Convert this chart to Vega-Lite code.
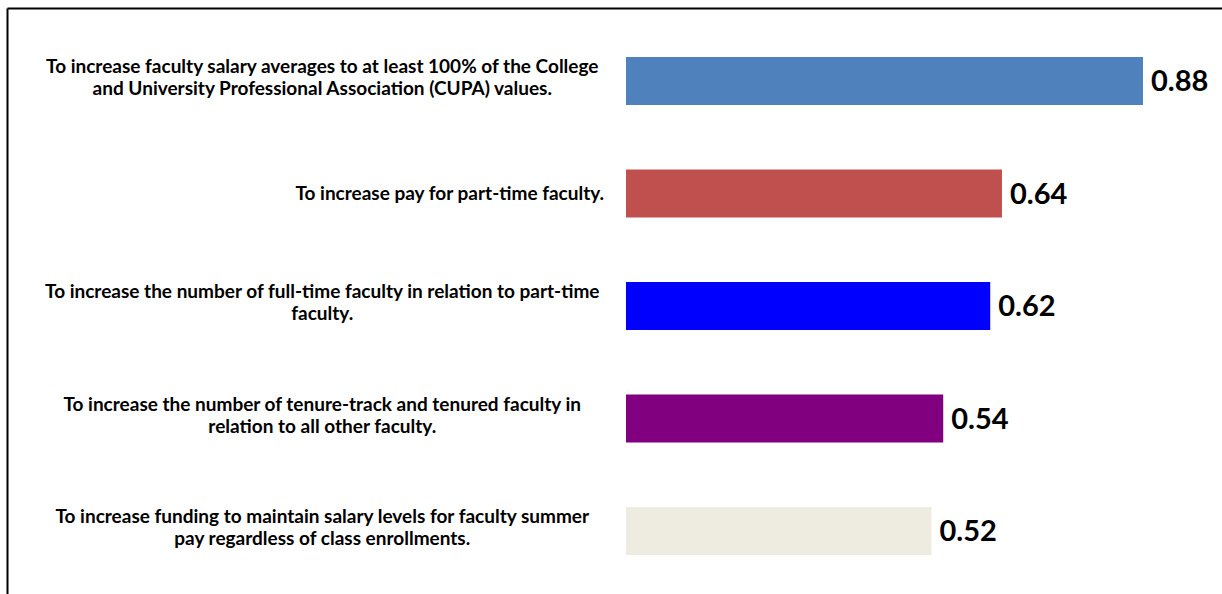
{
  "$schema": "https://vega.github.io/schema/vega-lite/v6.json",
  "width": 1215,
  "height": 586,
  "autosize": {"type": "none"},
  "padding": {"left": 7, "top": 8, "right": 0, "bottom": 0},
  "background": "white",
  "config": {"view": {"stroke": null}},
  "data": {
    "values": [
      {"goal": "To increase faculty salary averages to at least 100% of the College\nand University Professional Association (CUPA) values.", "value": 0.88, "key": "A"},
      {"goal": "To increase pay for part-time faculty.", "value": 0.64, "key": "B"},
      {"goal": "To increase the number of full-time faculty in relation to part-time\nfaculty.", "value": 0.62, "key": "C"},
      {"goal": "To increase the number of tenure-track and tenured faculty in\nrelation to all other faculty.", "value": 0.54, "key": "D"},
      {"goal": "To increase funding to maintain salary levels for faculty summer\npay regardless of class enrollments.", "value": 0.52, "key": "E"}
    ]
  },
  "encoding": {
    "y": {
      "field": "key",
      "type": "nominal",
      "sort": null,
      "scale": {"paddingInner": 0.5733, "paddingOuter": 0.391, "align": 0.557},
      "axis": {"labels": false, "ticks": false, "title": null, "domain": true, "domainColor": "#000000", "domainWidth": 2, "grid": false}
    }
  },
  "layer": [
    {
      "mark": {"type": "bar"},
      "encoding": {
        "x": {
          "field": "value",
          "type": "quantitative",
          "scale": {"domain": [-1.0536, 1.0145], "nice": false, "zero": false},
          "axis": {"orient": "top", "labels": false, "ticks": false, "title": null, "grid": false, "domain": true, "domainColor": "#000000", "domainWidth": 2}
        },
        "x2": {"datum": 0},
        "color": {
          "field": "key",
          "type": "nominal",
          "scale": {"domain": ["A", "B", "C", "D", "E"], "range": ["#4F81BD", "#C0504D", "#0000FF", "#800080", "#EEECE1"]},
          "legend": null
        }
      }
    },
    {
      "mark": {"type": "text", "align": "left", "baseline": "middle", "dx": 8, "dy": 1, "font": "Lato", "fontWeight": "bold", "fontSize": 29, "color": "#000000"},
      "encoding": {
        "x": {"field": "value", "type": "quantitative"},
        "text": {"field": "value", "type": "quantitative", "format": ".2f"}
      }
    },
    {
      "transform": [{"filter": "indexof(datum.goal, '\\n') >= 0"}],
      "mark": {"type": "text", "align": "center", "baseline": "middle", "lineBreak": "\n", "lineHeight": 22, "dy": -14, "font": "Lato", "fontWeight": "bold", "fontSize": 19, "color": "#000000"},
      "encoding": {
        "x": {"datum": -0.517},
        "text": {"field": "goal", "type": "nominal"}
      }
    },
    {
      "transform": [{"filter": "indexof(datum.goal, '\\n') < 0"}],
      "mark": {"type": "text", "align": "center", "baseline": "middle", "dy": 0, "font": "Lato", "fontWeight": "bold", "fontSize": 19, "color": "#000000"},
      "encoding": {
        "x": {"datum": -0.30},
        "text": {"field": "goal", "type": "nominal"}
      }
    }
  ]
}
